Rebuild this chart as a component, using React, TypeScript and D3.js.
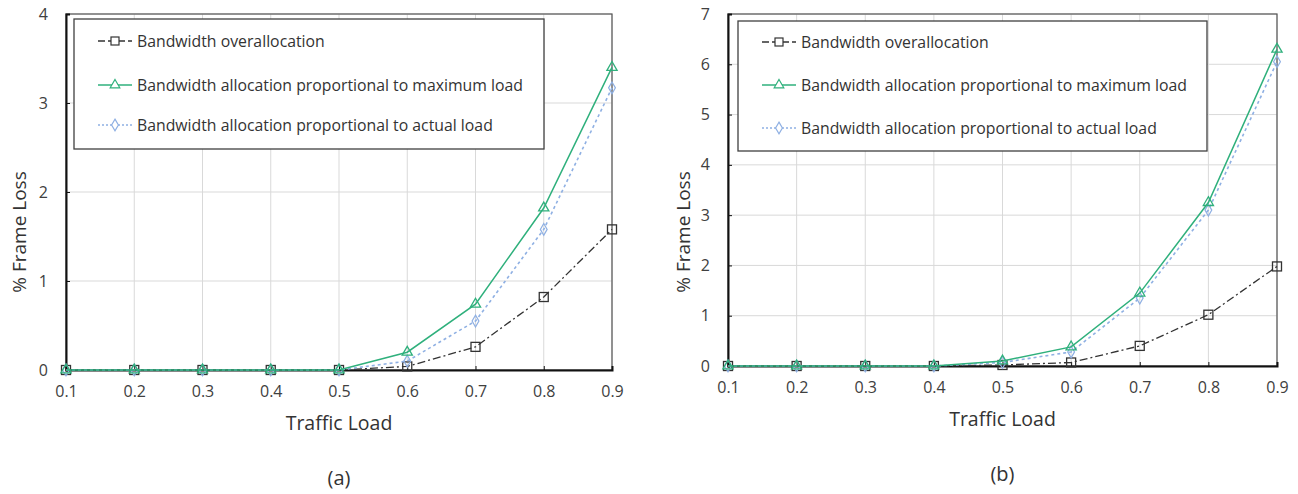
import React, { useEffect, useRef } from "react";
import * as d3 from "d3";

// traffic load (x)
const loads = [0.1, 0.2, 0.3, 0.4, 0.5, 0.6, 0.7, 0.8, 0.9];
const xTicks = ["0.1", "0.2", "0.3", "0.4", "0.5", "0.6", "0.7", "0.8", "0.9"];

// chart (a)
const overA = [0, 0, 0, 0, 0, 0.04, 0.26, 0.82, 1.58];
const maxA = [0, 0, 0, 0, 0, 0.2, 0.74, 1.82, 3.4];
const actA = [0, 0, 0, 0, 0, 0.1, 0.55, 1.58, 3.17];
const yTicksA = [0, 1, 2, 3, 4];

// chart (b)
const overB = [0, 0, 0, 0, 0.02, 0.07, 0.4, 1.02, 1.98];
const maxB = [0, 0, 0, 0, 0.1, 0.38, 1.45, 3.25, 6.3];
const actB = [0, 0, 0, 0, 0.07, 0.28, 1.35, 3.1, 6.05];
const yTicksB = [0, 1, 2, 3, 4, 5, 6, 7];

const legendNames = [
  "Bandwidth overallocation",
  "Bandwidth allocation proportional to maximum load",
  "Bandwidth allocation proportional to actual load",
];

const FONT = "'Open Sans', 'Noto Sans', sans-serif";
const GREEN = "#2fb07c";
const BLUE = "#8fb0e3";
const DARK = "#333";

function drawPanel(g, cfg) {
  const { x0, x1, y0, y1, yMax, yTicks, over, max, act, caption, legend, titleX } = cfg;
  const x = d3.scaleLinear().domain([0.1, 0.9]).range([x0, x1]);
  const y = d3.scaleLinear().domain([0, yMax]).range([y0, y1]);

  // grid
  g.append("g")
    .selectAll("line")
    .data(loads)
    .join("line")
    .attr("x1", (d) => x(d)).attr("x2", (d) => x(d))
    .attr("y1", y0).attr("y2", y1)
    .attr("stroke", "#d9d9d9").attr("stroke-width", 1);
  g.append("g")
    .selectAll("line")
    .data(yTicks)
    .join("line")
    .attr("x1", x0).attr("x2", x1)
    .attr("y1", (d) => y(d)).attr("y2", (d) => y(d))
    .attr("stroke", "#d9d9d9").attr("stroke-width", 1);

  // frame
  g.append("rect")
    .attr("x", x0).attr("y", y1)
    .attr("width", x1 - x0).attr("height", y0 - y1)
    .attr("fill", "none").attr("stroke", "#555").attr("stroke-width", 1.2);

  // axes
  const xAxis = g.append("g").attr("transform", `translate(0,${y0})`)
    .call(d3.axisBottom(x).tickValues(loads).tickFormat((d, i) => xTicks[i]).tickSize(-4).tickPadding(16));
  const yAxis = g.append("g").attr("transform", `translate(${x0},0)`)
    .call(d3.axisLeft(y).tickValues(yTicks).tickFormat(d3.format("d")).tickSize(-4).tickPadding(18));
  [xAxis, yAxis].forEach((a) => {
    a.select(".domain").attr("stroke", "#111").attr("stroke-width", 2);
    a.selectAll(".tick line").attr("stroke", "#111");
    a.selectAll("text").attr("font-family", FONT).attr("font-size", 16).attr("fill", "#404040");
  });

  const line = d3.line().x((d, i) => x(loads[i])).y((d) => y(d));

  // overallocation
  g.append("path").attr("d", line(over)).attr("fill", "none")
    .attr("stroke", DARK).attr("stroke-width", 1.3).attr("stroke-dasharray", "8,3,2,3");
  g.append("g").selectAll("rect").data(over).join("rect")
    .attr("x", (d, i) => x(loads[i]) - 4.5).attr("y", (d) => y(d) - 4.5)
    .attr("width", 9).attr("height", 9)
    .attr("fill", "none").attr("stroke", DARK).attr("stroke-width", 1.3);

  // actual load
  g.append("path").attr("d", line(act)).attr("fill", "none")
    .attr("stroke", BLUE).attr("stroke-width", 1.6).attr("stroke-dasharray", "3,3");
  g.append("g").selectAll("path").data(act).join("path")
    .attr("d", d3.symbol(d3.symbolDiamond, 40))
    .attr("transform", (d, i) => `translate(${x(loads[i])},${y(d)})`)
    .attr("fill", "none").attr("stroke", BLUE).attr("stroke-width", 1.2);

  // maximum load
  g.append("path").attr("d", line(max)).attr("fill", "none")
    .attr("stroke", GREEN).attr("stroke-width", 1.5);
  g.append("g").selectAll("path").data(max).join("path")
    .attr("d", d3.symbol(d3.symbolTriangle, 45))
    .attr("transform", (d, i) => `translate(${x(loads[i])},${y(d)})`)
    .attr("fill", "none").attr("stroke", GREEN).attr("stroke-width", 1.3);

  // legend
  const lg = g.append("g");
  lg.append("rect")
    .attr("x", legend.x).attr("y", legend.y)
    .attr("width", legend.w).attr("height", legend.h)
    .attr("fill", "white").attr("stroke", "#404040").attr("stroke-width", 1.3);
  const styles = [
    { stroke: DARK, dash: "7,3", mark: "square" },
    { stroke: GREEN, dash: null, mark: "tri" },
    { stroke: BLUE, dash: "2,2", mark: "dia" },
  ];
  styles.forEach((s, i) => {
    const ly = legend.rows[i];
    const lx = legend.x + 24;
    lg.append("line").attr("x1", lx).attr("x2", lx + 34).attr("y1", ly).attr("y2", ly)
      .attr("stroke", s.stroke).attr("stroke-width", i === 1 ? 1.5 : 1.3)
      .attr("stroke-dasharray", s.dash);
    const cx = lx + 17;
    if (s.mark === "square") {
      lg.append("rect").attr("x", cx - 4).attr("y", ly - 4).attr("width", 8).attr("height", 8)
        .attr("fill", "white").attr("stroke", DARK).attr("stroke-width", 1.2);
    } else {
      lg.append("path")
        .attr("d", d3.symbol(s.mark === "tri" ? d3.symbolTriangle : d3.symbolDiamond, 40))
        .attr("transform", `translate(${cx},${ly})`)
        .attr("fill", "white").attr("stroke", s.stroke).attr("stroke-width", 1.2);
    }
    lg.append("text").attr("x", lx + 39).attr("y", ly).attr("dy", "0.35em")
      .attr("font-family", FONT).attr("font-size", 15.8).attr("fill", "#333")
      .text(legendNames[i]);
  });

  // titles
  const cx = (x0 + x1) / 2;
  g.append("text").attr("x", cx).attr("y", y0 + 53).attr("dy", "0.35em").attr("text-anchor", "middle")
    .attr("font-family", FONT).attr("font-size", 19.5).attr("fill", "#333").text("Traffic Load");
  g.append("text")
    .attr("transform", `translate(${titleX},232) rotate(-90)`)
    .attr("text-anchor", "middle").attr("dy", "0.35em")
    .attr("font-family", FONT).attr("font-size", 19).attr("fill", "#333").text("% Frame Loss");
  g.append("text").attr("x", cx).attr("y", y0 + 108).attr("dy", "0.35em").attr("text-anchor", "middle")
    .attr("font-family", FONT).attr("font-size", 20).attr("fill", "#333").text(caption);
}

export default function App() {
  const ref = useRef(null);
  useEffect(() => {
    const svg = d3.select(ref.current);
    svg.selectAll("*").remove();
    drawPanel(svg.append("g"), {
      x0: 66, x1: 612, y0: 370, y1: 14, yMax: 4, yTicks: yTicksA,
      over: overA, max: maxA, act: actA, caption: "(a)", titleX: 19,
      legend: { x: 74, y: 19, w: 470, h: 130, rows: [41, 85, 125] },
    });
    drawPanel(svg.append("g"), {
      x0: 728, x1: 1277, y0: 366, y1: 14, yMax: 7, yTicks: yTicksB,
      over: overB, max: maxB, act: actB, caption: "(b)", titleX: 683,
      legend: { x: 738, y: 21, w: 469, h: 130, rows: [42, 85, 128] },
    });
  }, []);
  return (
    <svg ref={ref} width={1298} height={494}
      style={{ position: "absolute", left: 0, top: 0, background: "white" }} />
  );
}
